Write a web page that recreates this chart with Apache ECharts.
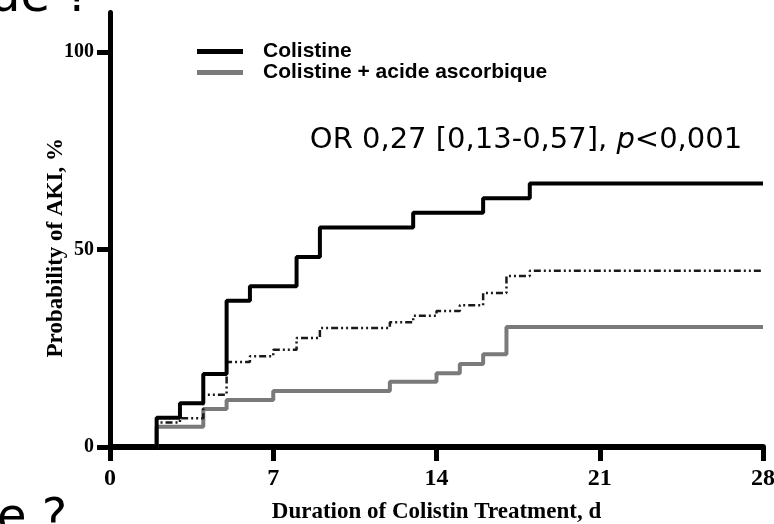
<!DOCTYPE html>
<html>
<head>
<meta charset="utf-8">
<script src="https://cdn.jsdelivr.net/npm/echarts@6/dist/echarts.min.js"></script>
<style>
  html, body { margin: 0; padding: 0; background: #fff; }
  #chart { width: 774px; height: 524px; }
</style>
</head>
<body>
<div id="chart"></div>
<script>
// tick labels
var xTicks = [0, 7, 14, 21, 28];
var yTicks = [0, 50, 100];

// Colistine (solid black)
var colistineDays = [0, 2, 3, 4, 5, 6, 8, 9, 13, 16, 18, 28];
var colistinePct  = [0, 7.4, 11.1, 18.5, 37.0, 40.7, 48.1, 55.6, 59.3, 63.0, 66.7, 66.7];

// Colistine + acide ascorbique (solid grey)
var ascorbiqueDays = [0, 2, 4, 5, 7, 12, 14, 15, 16, 17, 28];
var ascorbiquePct  = [0, 5.1, 9.6, 11.9, 14.2, 16.5, 18.7, 21.0, 23.5, 30.4, 30.4];

// unlabelled dash-dot curve
var totalDays = [0, 2, 3, 4, 5, 6, 7, 8, 9, 12, 13, 14, 15, 16, 17, 18, 28];
var totalPct  = [0, 6.2, 7.3, 13.2, 21.5, 23.0, 24.6, 27.6, 30.1, 31.6, 33.2, 34.4, 35.9, 39.0, 43.3, 44.6, 44.6];

function pairs(xs, ys) {
    var out = [];
    for (var i = 0; i < xs.length; i++) {
        out.push([xs[i], ys[i]]);
    }
    return out;
}

var serif = 'Liberation Serif, Times New Roman, serif';

var chart = echarts.init(document.getElementById('chart'));

var option = {
    animation: false,
    backgroundColor: '#fff',
    grid: { left: 110, right: 11, top: 12.5, bottom: 77, containLabel: false, outerBoundsMode: 'none' },
    legend: {
        data: ['Colistine', 'Colistine + acide ascorbique'],
        orient: 'vertical',
        left: 192,
        top: 36,
        itemWidth: 46,
        itemHeight: 5,
        itemGap: 0,
        icon: 'rect',
        selectedMode: false,
        textStyle: {
            fontFamily: 'Liberation Sans, Arial, sans-serif',
            fontWeight: 'bold',
            fontSize: 21,
            lineHeight: 19,
            color: '#000',
            padding: [0, 0, 0, 15]
        }
    },
    xAxis: {
        type: 'value',
        min: 0,
        max: 28,
        interval: 7,
        name: 'Duration of Colistin Treatment, d',
        nameLocation: 'middle',
        nameGap: 54,
        nameMoveOverlap: false,
        nameTextStyle: {
            fontFamily: serif,
            fontWeight: 'bold',
            fontSize: 23,
            color: '#000'
        },
        splitLine: { show: false },
        axisLine: { lineStyle: { color: '#000', width: 6 } },
        axisTick: { length: 14, lineStyle: { color: '#000', width: 5 } },
        axisLabel: {
            margin: 20,
            fontFamily: serif,
            fontWeight: 'bold',
            fontSize: 24,
            color: '#000',
            formatter: function (v) { return xTicks.indexOf(v) >= 0 ? v : ''; }
        }
    },
    yAxis: {
        type: 'value',
        min: 0,
        max: 110,
        interval: 50,
        name: 'Probability of AKI, %',
        nameLocation: 'middle',
        nameGap: 42,
        nameMoveOverlap: false,
        nameTextStyle: {
            fontFamily: serif,
            fontWeight: 'bold',
            fontSize: 23,
            color: '#000',
            padding: [0, 36, 0, 0]
        },
        splitLine: { show: false },
        axisLine: { show: true, lineStyle: { color: '#000', width: 5 } },
        axisTick: { show: true, length: 13, customValues: yTicks, lineStyle: { color: '#000', width: 5 } },
        axisLabel: {
            margin: 16,
            customValues: yTicks,
            fontFamily: serif,
            fontWeight: 'bold',
            fontSize: 20,
            color: '#000',
            formatter: function (v) { return yTicks.indexOf(v) >= 0 ? v : ''; }
        }
    },
    series: [
        {
            name: 'Colistine + acide ascorbique',
            type: 'line',
            step: 'end',
            showSymbol: false,
            color: '#7a7a7a',
            lineStyle: { color: '#7a7a7a', width: 4 },
            data: pairs(ascorbiqueDays, ascorbiquePct)
        },
        {
            name: 'Ensemble',
            type: 'line',
            step: 'end',
            showSymbol: false,
            color: '#000',
            lineStyle: { color: '#1a1a1a', width: 2.5, type: [7, 3, 2, 3, 2, 3] },
            data: pairs(totalDays, totalPct)
        },
        {
            name: 'Colistine',
            type: 'line',
            step: 'end',
            showSymbol: false,
            color: '#000',
            lineStyle: { color: '#000', width: 4 },
            data: pairs(colistineDays, colistinePct)
        }
    ],
    graphic: [
        {
            type: 'text',
            style: {
                x: 526, y: 140,
                textAlign: 'center',
                verticalAlign: 'middle',
                text: '{a|OR 0,27 [0,13-0,57], }{i|p}{a|<0,001}',
                rich: {
                    a: { fontFamily: 'DejaVu Sans', fontSize: 29, fill: '#000' },
                    i: { fontFamily: 'DejaVu Sans', fontStyle: 'italic', fontSize: 29, fill: '#000' }
                }
            }
        },
        {
            type: 'text',
            style: {
                x: -10, y: -1,
                verticalAlign: 'middle',
                text: 'ue ?',
                font: '48px "DejaVu Sans"',
                fill: '#000'
            }
        },
        {
            type: 'text',
            style: {
                x: -3, y: 520,
                verticalAlign: 'middle',
                text: 'e ?',
                font: '48px "DejaVu Sans"',
                fill: '#000'
            }
        }
    ]
};

chart.setOption(option);
</script>
</body>
</html>
